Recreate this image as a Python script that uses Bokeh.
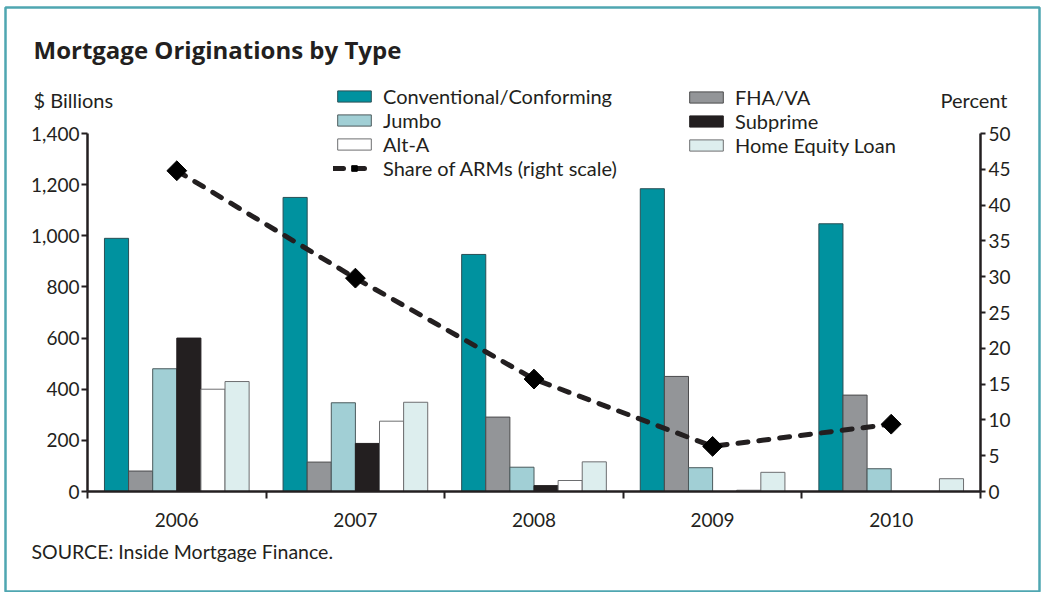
from bokeh.plotting import figure
from bokeh.models import (ColumnDataSource, Range1d, LinearAxis, FixedTicker,
                          NumeralTickFormatter, Legend, LegendItem, Label)
from bokeh.transform import dodge
from bokeh.embed import file_html
from bokeh.resources import INLINE

# ---- data ----
years = ["2006", "2007", "2008", "2009", "2010"]
conventional = [990, 1150, 927, 1184, 1047]
fha_va = [80, 115, 291, 450, 377]
jumbo = [480, 347, 95, 93, 89]
subprime = [600, 188, 23, 0, 0]
alt_a = [400, 275, 43, 5, 0]
home_equity = [430, 349, 116, 75, 50]
arm_share = [44.8, 29.8, 15.7, 6.3, 9.4]
left_ticks = [0, 200, 400, 600, 800, 1000, 1200, 1400]
right_ticks = [0, 5, 10, 15, 20, 25, 30, 35, 40, 45, 50]
LEFT_MAX = 1400
RIGHT_MAX = 50

FONT = "Lato"
INK = "#231F20"

# ---- layout (pixels) ----
W, H = 1042, 592
FRAME_L, FRAME_T, FRAME_R, FRAME_B = 5, 7, 1039, 592
AX_L, AX_R = 87, 980      # pixel x of the left / right value axes
AX_B, AX_T = 491, 133     # pixel y of value 0 / value max

n = len(years)
ux = (AX_R - AX_L) / n
uy = (AX_B - AX_T) / LEFT_MAX
x_range = Range1d((FRAME_L - AX_L) / ux, (FRAME_R - AX_L) / ux)
y_lo, y_hi = -(FRAME_B - AX_B) / uy, (AX_B - FRAME_T) / uy
y_range = Range1d(y_lo, y_hi)
k = RIGHT_MAX / LEFT_MAX

xc = [i + 0.5 for i in range(n)]
source = ColumnDataSource(dict(x=xc, conventional=conventional, fha=fha_va, jumbo=jumbo,
                               subprime=subprime, alta=alt_a, hel=home_equity, arm=arm_share))

p = figure(width=W, height=H, x_range=x_range, y_range=y_range, title=None,
           output_backend="svg", toolbar_location=None,
           min_border_left=FRAME_L, min_border_right=W - FRAME_R,
           min_border_top=FRAME_T, min_border_bottom=H - FRAME_B,
           x_axis_location=None, y_axis_location=None)
p.extra_y_ranges = {"pct": Range1d(y_lo * k, y_hi * k)}
p.xgrid.visible = False
p.ygrid.visible = False
p.outline_line_color = "#4FA6B1"
p.outline_line_width = 2.5

w = 0.135
series = [
    ("conventional", "Conventional/Conforming", "#00929F", "#2A4F55"),
    ("fha", "FHA/VA", "#939598", "#4A4A4C"),
    ("jumbo", "Jumbo", "#A1CFD5", "#4A5A5C"),
    ("subprime", "Subprime", INK, INK),
    ("alta", "Alt-A", "#FFFFFF", "#6D6E70"),
    ("hel", "Home Equity Loan", "#DDEEEE", "#6D6E70"),
]
rends = {}
for j, (col, name, fc, lc) in enumerate(series):
    off = (j - 2.5) * w
    r = p.vbar(x=dodge("x", off, range=p.x_range), top=col, width=w, source=source,
               fill_color=fc, line_color=lc, line_width=1)
    rends[col] = r

ln = p.line(x="x", y="arm", source=source, y_range_name="pct", line_color=INK,
            line_width=5, line_dash="10 11", line_cap="round")
mk = p.scatter(x="x", y="arm", source=source, y_range_name="pct", marker="square",
               size=14, angle=0.7854, fill_color="#000000", line_color="#000000")

# ---- axes ----
def style_axis(ax):
    ax.axis_line_color = INK
    ax.axis_line_width = 2.5
    ax.major_tick_line_color = INK
    ax.major_tick_line_width = 2
    ax.minor_tick_line_color = INK
    ax.minor_tick_line_width = 2
    ax.major_label_text_font = FONT
    ax.major_label_text_font_size = "19px"
    ax.major_label_text_color = INK

xa = LinearAxis(fixed_location=0, bounds=(0, n),
                ticker=FixedTicker(ticks=xc, minor_ticks=list(range(n + 1))))
xa.major_label_overrides = {xc[i]: years[i] for i in range(n)}
style_axis(xa)
xa.major_tick_out = 0
xa.major_tick_in = 0
xa.minor_tick_out = 7
xa.minor_tick_in = 0
xa.major_label_standoff = 14
p.add_layout(xa, "below")

ya = LinearAxis(fixed_location=0, bounds=(0, LEFT_MAX), ticker=FixedTicker(ticks=left_ticks),
                formatter=NumeralTickFormatter(format="0,0"))
style_axis(ya)
ya.major_tick_out = 6
ya.major_tick_in = 0
ya.minor_tick_out = 0
ya.major_label_standoff = 2
p.add_layout(ya, "left")

ra = LinearAxis(y_range_name="pct", fixed_location=n, bounds=(0, RIGHT_MAX),
                ticker=FixedTicker(ticks=right_ticks))
style_axis(ra)
ra.major_tick_out = 5
ra.major_tick_in = 0
ra.minor_tick_out = 0
ra.major_label_standoff = 3
p.add_layout(ra, "right")

# ---- legends (screen units relative to the frame) ----
def sx(px):
    return px - FRAME_L

def sy(py):
    return FRAME_B - py

def make_legend(items, loc, spacing):
    lg = Legend(items=items, location=loc, orientation="vertical",
                glyph_width=42, glyph_height=14, label_standoff=8, spacing=spacing,
                padding=0, margin=0, border_line_color=None, background_fill_alpha=0,
                label_text_font=FONT, label_text_font_size="20px", label_text_color=INK,
                label_height=20)
    p.add_layout(lg, "center")

make_legend([
    LegendItem(label="Conventional/Conforming", renderers=[rends["conventional"]]),
    LegendItem(label="Jumbo", renderers=[rends["jumbo"]]),
    LegendItem(label="Alt-A", renderers=[rends["alta"]]),
    LegendItem(label="Share of ARMs (right scale)", renderers=[ln, mk]),
], (sx(333), sy(180)), -3)
make_legend([
    LegendItem(label="FHA/VA", renderers=[rends["fha"]]),
    LegendItem(label="Subprime", renderers=[rends["subprime"]]),
    LegendItem(label="Home Equity Loan", renderers=[rends["hel"]]),
], (sx(685), sy(157)), -2)

# ---- texts ----
def lab(px, py, text, size="20px", style="normal", align="left", font=FONT):
    p.add_layout(Label(x=sx(px), y=sy(py), x_units="screen", y_units="screen", text=text,
                       text_font=font, text_font_size=size, text_font_style=style,
                       text_color=INK, text_align=align, text_baseline="middle"))

lab(33, 49, "Mortgage Originations by Type", size="24px", style="bold", font="Open Sans")
lab(33, 99, "$ Billions")
lab(1007, 99, "Percent", align="right")
lab(31, 551, "SOURCE: Inside Mortgage Finance.", size="19.5px")

open("out.html", "w").write(file_html(p, INLINE))
